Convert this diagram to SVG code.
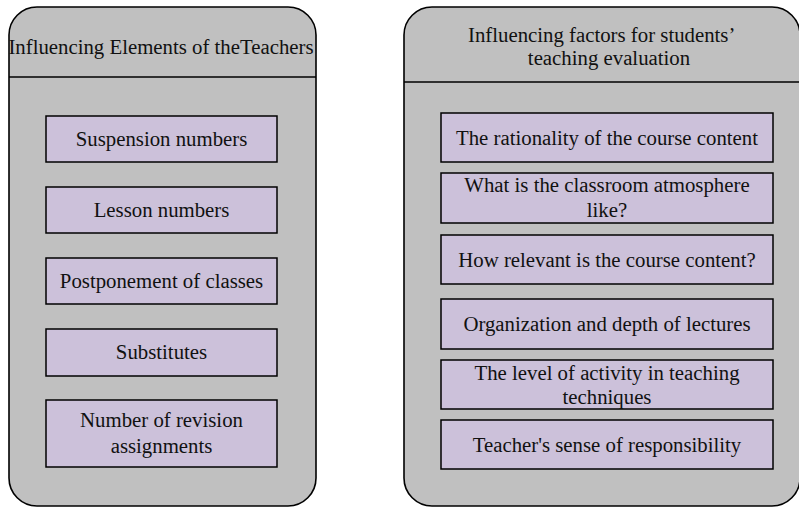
<svg xmlns="http://www.w3.org/2000/svg" width="799" height="508" viewBox="0 0 799 508">
  <style>
    .panel { fill: #c0c0c0; stroke: #000; stroke-width: 1.6; }
    .divider { stroke: #000; stroke-width: 1.6; fill: none; }
    .item { fill: #ccc1da; stroke: #000; stroke-width: 1.5; }
    .c { text-anchor: middle; }
  </style>
  <rect width="799" height="508" fill="#fff"/>

  <g font-family="Times New Roman, Liberation Serif, Tinos, Nimbus Roman, DejaVu Serif, serif" font-size="20.8" fill="#111">
  <!-- Left panel: teacher-related elements -->
  <g id="panel-teachers">
    <rect class="panel" x="9" y="7" width="307" height="499" rx="28" ry="28"/>
    <line class="divider" x1="9" y1="77" x2="316" y2="77"/>
    <text class="c" x="161" y="54">Influencing Elements of theTeachers</text>
  </g>
  <g id="t-suspension">
    <rect class="item" x="46" y="116" width="231" height="46"/>
    <text class="c" x="161.5" y="146">Suspension numbers</text>
  </g>
  <g id="t-lesson">
    <rect class="item" x="46" y="187" width="231" height="46"/>
    <text class="c" x="161.5" y="217">Lesson numbers</text>
  </g>
  <g id="t-postponement">
    <rect class="item" x="46" y="258" width="231" height="46"/>
    <text class="c" x="161.5" y="288">Postponement of classes</text>
  </g>
  <g id="t-substitutes">
    <rect class="item" x="46" y="329" width="231" height="47"/>
    <text class="c" x="161.5" y="359">Substitutes</text>
  </g>
  <g id="t-revision">
    <rect class="item" x="46" y="400" width="231" height="67"/>
    <text class="c" x="161.5" y="427">Number of revision</text>
    <text class="c" x="161.5" y="453">assignments</text>
  </g>

  <!-- Right panel: student evaluation factors -->
  <g id="panel-students">
    <rect class="panel" x="404" y="7" width="396" height="499" rx="28" ry="28"/>
    <line class="divider" x1="404" y1="82" x2="800" y2="82"/>
    <text x="468" y="42">Influencing factors for students’</text>
    <text class="c" x="609" y="65">teaching evaluation</text>
  </g>
  <g id="s-rationality">
    <rect class="item" x="441" y="113" width="332" height="49"/>
    <text class="c" x="607" y="145">The rationality of the course content</text>
  </g>
  <g id="s-atmosphere">
    <rect class="item" x="441" y="173" width="332" height="50"/>
    <text class="c" x="607" y="192">What is the classroom atmosphere</text>
    <text class="c" x="607" y="217">like?</text>
  </g>
  <g id="s-relevance">
    <rect class="item" x="441" y="235" width="332" height="49"/>
    <text class="c" x="607" y="267">How relevant is the course content?</text>
  </g>
  <g id="s-organization">
    <rect class="item" x="441" y="299" width="332" height="50"/>
    <text class="c" x="607" y="331">Organization and depth of lectures</text>
  </g>
  <g id="s-activity">
    <rect class="item" x="441" y="360" width="332" height="49"/>
    <text class="c" x="607" y="380">The level of activity in teaching</text>
    <text class="c" x="607" y="404">techniques</text>
  </g>
  <g id="s-responsibility">
    <rect class="item" x="441" y="420" width="332" height="49"/>
    <text class="c" x="607" y="452">Teacher's sense of responsibility</text>
  </g>
  </g>

  <g id="connectors"/>
</svg>
